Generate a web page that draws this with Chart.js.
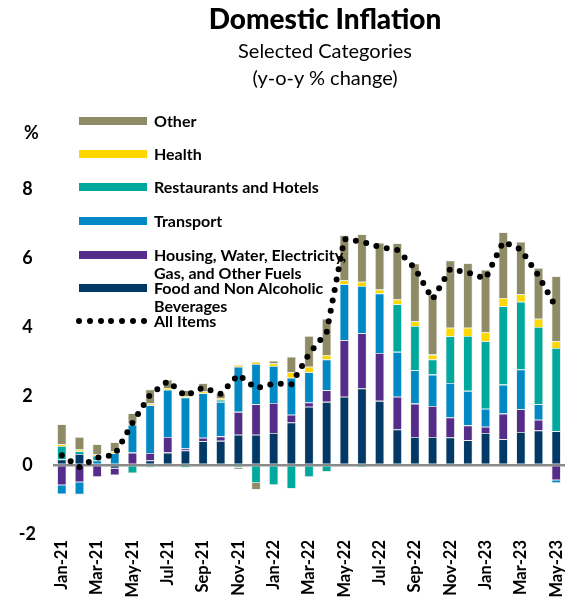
<!DOCTYPE html>
<html>
<head>
<meta charset="utf-8">
<script src="https://cdn.jsdelivr.net/npm/chart.js@4"></script>
<style>
  body { margin: 0; background: #fff; }
  #wrap { position: relative; width: 582px; height: 604px; font-family: Lato, "Open Sans", sans-serif; color: #000; }
  #chart { position: absolute; left: 0; top: 0; }
  .t { position: absolute; white-space: nowrap; }
  .title { left: 0; width: 650px; text-align: center; font-weight: 900; font-size: 28px; top: 1px; }
  .sub { left: 0; width: 650px; text-align: center; font-size: 20px; }
  .pct { left: 24px; top: 121px; font-weight: bold; font-size: 18px; }
  .sw { position: absolute; left: 79px; width: 68px; height: 8px; }
  .lab { position: absolute; left: 154px; font-weight: bold; font-size: 16px; line-height: 18px; white-space: nowrap; }
  .dot { position: absolute; width: 6px; height: 6px; border-radius: 50%; background: #000; }
</style>
</head>
<body>
<div id="wrap">
  <canvas id="chart" width="582" height="604"></canvas>
  <div class="t title">Domestic Inflation</div>
  <div class="t sub" style="top:38px">Selected Categories</div>
  <div class="t sub" style="top:65px">(y-o-y % change)</div>
  <div class="t pct">%</div>
  <div id="legend"></div>
</div>
<script>
// -----------------------
// Data (y-o-y % change, contribution by category)
// -----------------------
const months = ['Jan-21','Feb-21','Mar-21','Apr-21','May-21','Jun-21','Jul-21','Aug-21','Sep-21','Oct-21','Nov-21','Dec-21',
  'Jan-22','Feb-22','Mar-22','Apr-22','May-22','Jun-22','Jul-22','Aug-22','Sep-22','Oct-22','Nov-22','Dec-22',
  'Jan-23','Feb-23','Mar-23','Apr-23','May-23'];

const food = [0.16, 0.32, 0, -0.10, 0, 0.13, 0.36, 0.42, 0.69, 0.70, 0.88, 0.88,
  0.93, 1.23, 1.69, 1.83, 1.98, 2.22, 1.86, 1.03, 0.81, 0.81, 0.80, 0.72,
  0.93, 0.75, 0.96, 1.00, 0.98];
const housing = [-0.59, -0.50, -0.35, -0.20, 0.36, 0.22, 0.45, 0.06, 0.10, 0.13, 0.66, 0.88,
  0.87, 0.23, 0.12, 0.34, 1.64, 1.60, 1.39, 0.95, 0.97, 0.90, 0.58, 0.43,
  0.18, 0.74, 0.66, 0.31, -0.44];
const transport = [-0.26, -0.36, 0.13, 0.34, 0.81, 1.38, 1.37, 1.48, 1.29, 1.00, 1.31, 1.17,
  1.07, 1.07, 0.88, 0.89, 1.62, 1.37, 1.72, 1.30, 0.97, 0.91, 1.00, 1.00,
  0.52, 0.84, 1.15, 0.45, -0.08];
const restaurants = [0.39, 0.08, 0.14, 0, -0.24, -0.07, 0, -0.08, 0, 0.06, -0.07, -0.52,
  -0.58, -0.69, -0.35, -0.20, -0.05, -0.06, -0.03, 1.38, 1.28, 0.44, 1.35, 1.59,
  1.96, 2.27, 1.96, 2.24, 2.41];
const health = [0.05, 0.05, 0.04, 0.05, 0.05, 0.05, 0.05, 0.04, 0.05, 0.04, 0.05, 0.06,
  0.07, 0.16, 0.16, 0.13, 0.12, 0.12, 0.12, 0.14, 0.14, 0.14, 0.25, 0.24,
  0.26, 0.24, 0.22, 0.24, 0.20];
const other = [0.58, 0.36, 0.29, 0.27, 0.28, 0.41, 0.24, 0.17, 0.24, 0.15, -0.06, -0.20,
  0.08, 0.45, 0.89, 1.05, 1.30, 1.38, 1.35, 1.63, 1.67, 1.74, 1.95, 1.87,
  1.81, 1.91, 1.52, 1.47, 1.88];
const allItems = [0.28, -0.06, 0.21, 0.30, 1.22, 2.04, 2.43, 2.00, 2.24, 2.06, 2.62, 2.22,
  2.36, 2.34, 3.22, 3.85, 6.55, 6.47, 6.32, 6.23, 5.70, 4.80, 5.68, 5.58,
  5.40, 6.47, 6.25, 5.48, 4.56];

const yTicks = [-2, 0, 2, 4, 6, 8];

const colors = {
  other: '#8e8b66',
  health: '#fdd700',
  restaurants: '#00a99d',
  transport: '#0089c4',
  housing: '#562c8b',
  food: '#023966'
};

// -----------------------
// HTML legend (left, inside the plot)
// -----------------------
const legendItems = [
  { color: colors.other, y: 121, text: 'Other' },
  { color: colors.health, y: 154, text: 'Health' },
  { color: colors.restaurants, y: 187, text: 'Restaurants and Hotels' },
  { color: colors.transport, y: 221, text: 'Transport' },
  { color: colors.housing, y: 255, text: 'Housing, Water, Electricity,<br>Gas, and Other Fuels' },
  { color: colors.food, y: 288, text: 'Food and Non Alcoholic<br>Beverages' }
];
const legendEl = document.getElementById('legend');
legendItems.forEach(item => {
  const sw = document.createElement('div');
  sw.className = 'sw';
  sw.style.top = (item.y - 4) + 'px';
  sw.style.background = item.color;
  legendEl.appendChild(sw);
  const lab = document.createElement('div');
  lab.className = 'lab';
  lab.style.top = (item.y - 9) + 'px';
  lab.innerHTML = item.text;
  legendEl.appendChild(lab);
});
for (let i = 0; i < 7; i++) {
  const d = document.createElement('div');
  d.className = 'dot';
  d.style.left = (76 + i * 10.8) + 'px';
  d.style.top = '318px';
  legendEl.appendChild(d);
}
const allLab = document.createElement('div');
allLab.className = 'lab';
allLab.style.top = '312px';
allLab.textContent = 'All Items';
legendEl.appendChild(allLab);

// -----------------------
// Chart
// -----------------------
function barSet(label, data, color) {
  return {
    type: 'bar',
    label,
    data,
    backgroundColor: color,
    borderColor: 'rgba(225,228,220,0.85)',
    borderWidth: 0.8,
    stack: 'cat',
    order: 1,
    barPercentage: 0.53,
    categoryPercentage: 1
  };
}

const ctx = document.getElementById('chart').getContext('2d');
new Chart(ctx, {
  data: {
    labels: months,
    datasets: [
      {
        type: 'line',
        label: 'All Items',
        data: allItems,
        borderColor: '#000',
        borderWidth: 6,
        borderDash: [0, 10.6],
        borderCapStyle: 'round',
        borderJoinStyle: 'round',
        pointRadius: 0,
        fill: false,
        tension: 0,
        stack: 'line',
        order: 0
      },
      barSet('Food and Non Alcoholic Beverages', food, colors.food),
      barSet('Housing, Water, Electricity, Gas, and Other Fuels', housing, colors.housing),
      barSet('Transport', transport, colors.transport),
      barSet('Restaurants and Hotels', restaurants, colors.restaurants),
      barSet('Health', health, colors.health),
      barSet('Other', other, colors.other)
    ]
  },
  options: {
    responsive: false,
    animation: false,
    layout: { padding: { top: 120, right: 1, bottom: 0, left: 0 } },
    plugins: {
      legend: { display: false },
      title: { display: false },
      tooltip: { enabled: false }
    },
    scales: {
      x: {
        stacked: true,
        grid: { display: false, drawTicks: false },
        border: { display: false },
        afterFit: s => { s.height = 70; },
        ticks: {
          autoSkip: false,
          maxRotation: 90,
          minRotation: 90,
          padding: 6,
          color: '#000',
          font: { family: 'Lato', weight: 'bold', size: 16.5 },
          callback: (v, i) => (i % 2 === 0 ? months[i] : '')
        }
      },
      y: {
        stacked: true,
        min: -2,
        max: 10,
        z: 1,
        afterFit: s => { s.width = 53; },
        afterBuildTicks: s => { s.ticks = yTicks.map(v => ({ value: v })); },
        border: { display: false },
        grid: {
          drawTicks: false,
          color: c => (c.tick && c.tick.value === 0 ? '#8a8a8a' : 'rgba(0,0,0,0)'),
          lineWidth: c => (c.tick && c.tick.value === 0 ? 2.5 : 0)
        },
        ticks: {
          crossAlign: 'center',
          padding: 17,
          color: '#000',
          font: { family: 'Lato', weight: 'bold', size: 18 }
        }
      }
    }
  }
});
</script>
</body>
</html>
